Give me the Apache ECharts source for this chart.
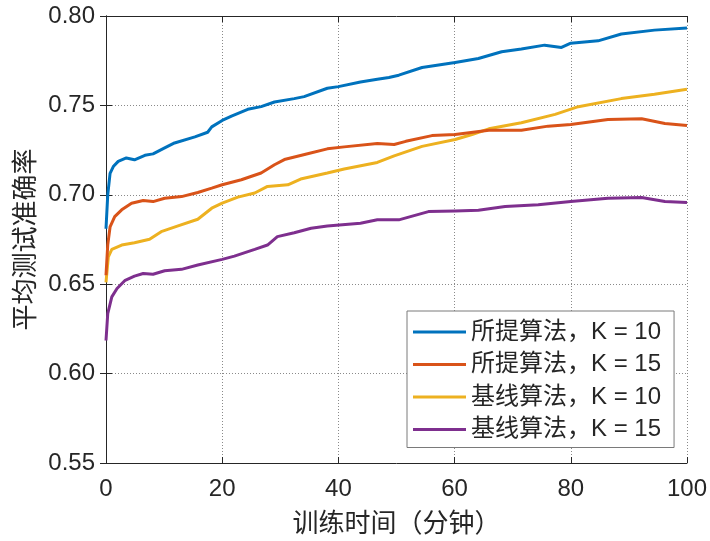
<!DOCTYPE html>
<html>
<head>
<meta charset="utf-8">
<script src="https://cdn.jsdelivr.net/npm/echarts@6/dist/echarts.min.js"></script>
<style>
  html, body { margin: 0; padding: 0; background: #fff; }
  #chart { width: 710px; height: 541px; }
</style>
</head>
<body>
<div id="chart"></div>
<script>
// Series names shown in the legend
const seriesNames = ['所提算法，K = 10', '所提算法，K = 15', '基线算法，K = 10', '基线算法，K = 15'];
const seriesColors = ['#0072BD', '#D95319', '#EDB120', '#7E2F8E'];

// Training time (minutes) and mean test accuracy for each run
const timeA = [0, 0.3, 0.7, 1.3, 2.1, 3.5, 4.9, 6.7, 8.1, 10.1, 11.8, 15.3, 17.5, 18.2, 20, 21.6, 24.4, 26.7, 29, 32.4, 34.1, 38.1, 40, 43.8, 46.7, 48.7, 50.4, 54.4, 60.1, 64.1, 68.1, 71.5, 75.5, 78.4, 80, 84.7, 88.7, 94.4, 100];
const accA  = [0.681, 0.700, 0.712, 0.716, 0.7187, 0.7206, 0.7196, 0.7221, 0.7229, 0.7262, 0.7290, 0.7324, 0.7350, 0.7380, 0.7416, 0.7440, 0.7478, 0.7493, 0.7519, 0.7538, 0.7549, 0.7596, 0.7605, 0.7631, 0.7646, 0.7656, 0.7669, 0.7712, 0.7740, 0.7762, 0.7800, 0.7815, 0.7837, 0.7824, 0.7848, 0.7861, 0.7899, 0.7921, 0.7933];

const timeB = [0, 0.3, 0.7, 1.5, 2.7, 4.4, 6.4, 8.1, 10.1, 13, 15.8, 18.2, 20, 23.3, 26.7, 29, 30.7, 34.7, 38.1, 41, 46.7, 49.6, 51.6, 56.1, 60.1, 65.9, 71.5, 76.1, 80, 86.4, 92.2, 96.2, 100];
const accB  = [0.655, 0.672, 0.682, 0.6878, 0.6916, 0.6953, 0.6968, 0.6962, 0.6981, 0.6990, 0.7013, 0.7037, 0.7056, 0.7084, 0.7122, 0.7168, 0.7197, 0.7230, 0.7257, 0.7268, 0.7287, 0.7281, 0.7299, 0.7331, 0.7337, 0.7361, 0.7361, 0.7384, 0.7393, 0.7421, 0.7425, 0.7399, 0.7388];

const timeC = [0, 0.4, 1, 2.7, 4.9, 7.5, 9.5, 12.4, 15.8, 18.2, 20, 22.7, 25.6, 27.8, 31.3, 33.5, 38.1, 41, 46.7, 49.6, 54.4, 60.1, 63, 65.9, 71.5, 77.3, 81.3, 88.7, 94.4, 100];
const accC  = [0.651, 0.6653, 0.6695, 0.6719, 0.6732, 0.6751, 0.6794, 0.6826, 0.6863, 0.6925, 0.6953, 0.6987, 0.7010, 0.7047, 0.7056, 0.7088, 0.7122, 0.7144, 0.7181, 0.7218, 0.7271, 0.7309, 0.7337, 0.7369, 0.7403, 0.7450, 0.7493, 0.7538, 0.7562, 0.7590];

const timeD = [0, 0.3, 1, 1.9, 3.3, 4.9, 6.4, 8.1, 10.1, 13, 15.8, 20, 22.1, 25.6, 27.8, 29.5, 32.4, 35.3, 38.1, 43.8, 46.7, 50.4, 55.5, 60.1, 64.1, 68.7, 74.4, 80, 86.4, 92.2, 96.2, 100];
const accD  = [0.6185, 0.6335, 0.6429, 0.6476, 0.6522, 0.6545, 0.6560, 0.6556, 0.6575, 0.6583, 0.6607, 0.6639, 0.6657, 0.6695, 0.6719, 0.6766, 0.6788, 0.6813, 0.6826, 0.6841, 0.6860, 0.6860, 0.6906, 0.6910, 0.6913, 0.6934, 0.6944, 0.6962, 0.6981, 0.6985, 0.6962, 0.6957];

const allTimes = [timeA, timeB, timeC, timeD];
const allAcc = [accA, accB, accC, accD];

const ink = '#262626';
const latinFont = "'Liberation Sans', Arial, 'Noto Sans CJK SC', sans-serif";
const cjkFont = "'Noto Sans CJK SC', 'Liberation Sans', sans-serif";

const zip = (xs, ys) => xs.map((x, i) => [x, ys[i]]);

const chart = echarts.init(document.getElementById('chart'), null, { renderer: 'canvas' });

const tickStyle = { show: true, inside: true, length: 6, lineStyle: { color: ink, width: 1 } };
const gridLine = { show: true, lineStyle: { color: '#8a8a8a', type: [1, 2], width: 1 } };

chart.setOption({
  animation: false,
  backgroundColor: '#ffffff',
  grid: { left: 106, right: 21, top: 16, bottom: 78, containLabel: false },
  legend: {
    orient: 'vertical',
    left: 407,
    top: 311,
    padding: [9, 13, 6, 6],
    itemGap: 8.5,
    itemWidth: 53,
    itemHeight: 3,
    icon: 'rect',
    backgroundColor: '#ffffff',
    borderColor: '#7a7a7a',
    borderWidth: 1,
    borderRadius: 0,
    textStyle: { color: ink, fontSize: 24, lineHeight: 24, fontFamily: latinFont },
    data: seriesNames
  },
  xAxis: [
    {
      type: 'value', min: 0, max: 100, interval: 20,
      position: 'bottom',
      name: '训练时间（分钟）', nameLocation: 'middle', nameGap: 46,
      nameTextStyle: { color: ink, fontSize: 26, fontFamily: cjkFont },
      axisLine: { show: true, lineStyle: { color: ink, width: 1 } },
      axisTick: tickStyle,
      axisLabel: { color: ink, fontSize: 24, fontFamily: latinFont, margin: 14 },
      splitLine: gridLine
    },
    {
      type: 'value', min: 0, max: 100, interval: 20,
      position: 'top',
      axisLine: { show: true, lineStyle: { color: ink, width: 1 } },
      axisTick: tickStyle,
      axisLabel: { show: false },
      splitLine: { show: false }
    }
  ],
  yAxis: [
    {
      type: 'value', min: 0.55, max: 0.80, interval: 0.05,
      position: 'left',
      name: '平均测试准确率', nameLocation: 'middle', nameGap: 68,
      nameTextStyle: { color: ink, fontSize: 26, fontFamily: cjkFont },
      axisLine: { show: true, lineStyle: { color: ink, width: 1 } },
      axisTick: tickStyle,
      axisLabel: { color: ink, fontSize: 24, fontFamily: latinFont, margin: 11, formatter: v => v.toFixed(2) },
      splitLine: gridLine
    },
    {
      type: 'value', min: 0.55, max: 0.80, interval: 0.05,
      position: 'right',
      axisLine: { show: true, lineStyle: { color: ink, width: 1 } },
      axisTick: tickStyle,
      axisLabel: { show: false },
      splitLine: { show: false }
    }
  ],
  series: seriesNames.map((name, i) => ({
    name,
    type: 'line',
    xAxisIndex: 0,
    yAxisIndex: 0,
    data: zip(allTimes[i], allAcc[i]),
    showSymbol: false,
    symbol: 'none',
    smooth: false,
    lineStyle: { color: seriesColors[i], width: 3 },
    itemStyle: { color: seriesColors[i] },
    z: 2 + (3 - i)
  }))
});
</script>
</body>
</html>
